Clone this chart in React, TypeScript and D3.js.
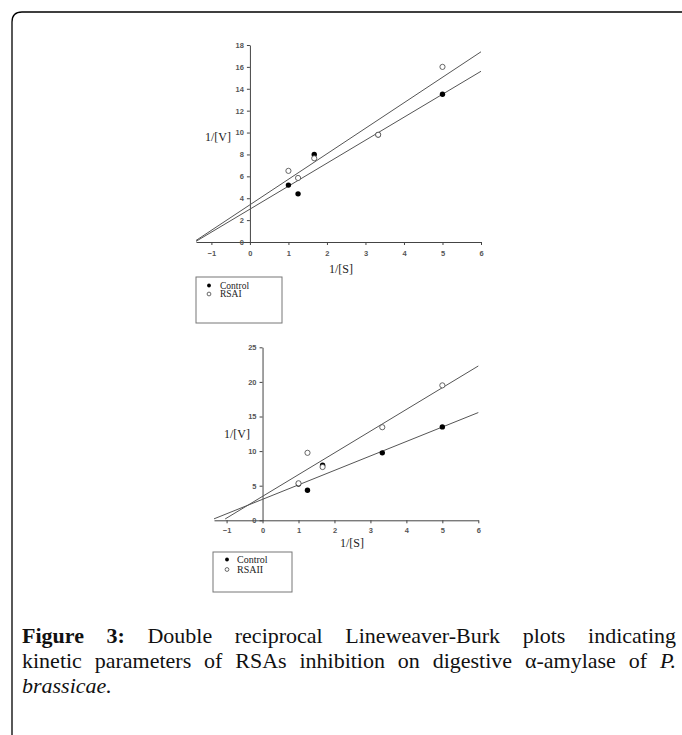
import * as d3 from "d3";
import { useRef, useEffect } from "react";

// 1/[S] values shared by both experiments
const invS: number[] = [1, 1.25, 1.67, 3.33, 5];

// top plot: Control vs RSAI
const control1: number[] = [5.2, 4.4, 8.0, 9.8, 13.5];
const rsai: number[] = [6.5, 5.85, 7.65, 9.8, 16.0];
// bottom plot: Control vs RSAII
const control2: number[] = [5.25, 4.35, 7.95, 9.75, 13.5];
const rsaii: number[] = [5.35, 9.75, 7.7, 13.45, 19.5];

// fitted lines: [slope, intercept, x start]
const fit1Control: number[] = [2.1, 3.0, -1.4];
const fit1Rsai: number[] = [2.33, 3.4, -1.4];
const fit2Control: number[] = [2.09, 3.03, -1.35];
const fit2Rsaii: number[] = [3.14, 3.46, -1.04];

const xTicks: number[] = [-1, 0, 1, 2, 3, 4, 5, 6];
const yTicks1: number[] = [0, 2, 4, 6, 8, 10, 12, 14, 16, 18];
const yTicks2: number[] = [0, 5, 10, 15, 20, 25];

const legend1: string[] = ["Control", "RSAI"];
const legend2: string[] = ["Control", "RSAII"];

export default function App() {
  const svgRef: any = useRef();

  useEffect(() => {
    const svg = d3.select(svgRef.current);
    svg.selectAll("*").remove();

    // frame with rounded corner
    svg
      .append("path")
      .attr("d", "M12,740 V22 Q12,12 22,12 H690")
      .attr("fill", "none")
      .attr("stroke", "#000")
      .attr("stroke-width", 1.3);

    const drawPlot = (
      xDomain: number[],
      xRange: number[],
      yDomain: number[],
      yRange: number[],
      yTicks: number[],
      ctrl: number[],
      other: number[],
      fitC: number[],
      fitO: number[],
      vLabel: number[],
      sLabel: number[],
      tickLabelY: number
    ) => {
      const x = d3.scaleLinear().domain(xDomain).range(xRange);
      const y = d3.scaleLinear().domain(yDomain).range(yRange);
      const g = svg.append("g");

      // axes
      const xAxis = d3.axisBottom(x).tickValues(xTicks).tickSize(3).tickSizeOuter(0).tickFormat(d3.format("d"));
      const gx = g.append("g").attr("transform", `translate(0, ${y(0)})`).call(xAxis);
      const yAxis = d3.axisLeft(y).tickValues(yTicks).tickSize(3).tickSizeOuter(0).tickFormat(d3.format("d"));
      const gy = g.append("g").attr("transform", `translate(${x(0)}, 0)`).call(yAxis);
      [gx, gy].forEach((a) => {
        a.select(".domain").attr("stroke", "#444");
        a.selectAll(".tick line").attr("stroke", "#444");
        a.selectAll("text")
          .attr("font-family", "Liberation Sans, Arial, sans-serif")
          .attr("font-size", 7.5)
          .attr("font-weight", "bold")
          .attr("fill", "#555");
      });
      gx.selectAll(".tick text").attr("y", tickLabelY - y(0)).attr("dy", 0);

      // fit lines
      [fitC, fitO].forEach((f) => {
        const line = d3
          .line<number>()
          .x((d) => x(d))
          .y((d) => y(f[0] * d + f[1]));
        g.append("path")
          .attr("d", line([f[2], xDomain[1]]))
          .attr("fill", "none")
          .attr("stroke", "#555")
          .attr("stroke-width", 1);
      });

      // points
      g.selectAll(".ctrl")
        .data(ctrl)
        .join("circle")
        .attr("cx", (d, i) => x(invS[i]))
        .attr("cy", (d) => y(d))
        .attr("r", 2.7)
        .attr("fill", "#000");
      g.selectAll(".oth")
        .data(other)
        .join("circle")
        .attr("cx", (d, i) => x(invS[i]))
        .attr("cy", (d) => y(d))
        .attr("r", 2.6)
        .attr("fill", "#fff")
        .attr("stroke", "#555")
        .attr("stroke-width", 0.9);

      // axis titles
      g.append("text")
        .attr("x", vLabel[0])
        .attr("y", vLabel[1])
        .attr("text-anchor", "middle")
        .attr("font-family", "Liberation Serif, Times New Roman, serif")
        .attr("font-size", 12)
        .attr("fill", "#222")
        .text("1/[V]");
      g.append("text")
        .attr("x", sLabel[0])
        .attr("y", sLabel[1])
        .attr("text-anchor", "middle")
        .attr("font-family", "Liberation Serif, Times New Roman, serif")
        .attr("font-size", 12)
        .attr("fill", "#222")
        .text("1/[S]");
    };

    drawPlot([-1.4, 6], [196, 481], [0, 18], [242, 45], yTicks1, control1, rsai, fit1Control, fit1Rsai, [218, 141], [341, 273], 256);
    drawPlot([-1.35, 6], [214, 478.3], [0, 25], [520.3, 347.3], yTicks2, control2, rsaii, fit2Control, fit2Rsaii, [237, 438], [352, 547], 533);

    // legends
    const drawLegend = (box: number[], labels: string[], mx: number, tx: number, y0: number, step: number, fs: number) => {
      const g = svg.append("g");
      g.append("rect")
        .attr("x", box[0])
        .attr("y", box[1])
        .attr("width", box[2])
        .attr("height", box[3])
        .attr("fill", "#fff")
        .attr("stroke", "#777")
        .attr("stroke-width", 1);
      labels.forEach((lab, i) => {
        g.append("circle")
          .attr("cx", mx)
          .attr("cy", y0 + i * step)
          .attr("r", 1.9)
          .attr("fill", i === 0 ? "#000" : "#fff")
          .attr("stroke", i === 0 ? "none" : "#444")
          .attr("stroke-width", 0.8);
        g.append("text")
          .attr("x", tx)
          .attr("y", y0 + i * step + 3)
          .attr("font-family", "Liberation Serif, Times New Roman, serif")
          .attr("font-size", fs)
          .attr("fill", "#222")
          .text(lab);
      });
    };
    drawLegend([196, 277, 86, 46], legend1, 209, 220, 285.5, 8.5, 9.5);
    drawLegend([213, 552, 79, 40], legend2, 227, 237, 559.5, 10, 10);

    // caption, justified lines
    const font = "Liberation Serif, Times New Roman, serif";
    const captionLines: { words: { t: string; w?: string; s?: string }[]; y: number; justify: boolean }[] = [
      {
        words: [
          { t: "Figure", w: "bold" },
          { t: "3:", w: "bold" },
          { t: "Double" },
          { t: "reciprocal" },
          { t: "Lineweaver-Burk" },
          { t: "plots" },
          { t: "indicating" },
        ],
        y: 643,
        justify: true,
      },
      {
        words: [
          { t: "kinetic" },
          { t: "parameters" },
          { t: "of" },
          { t: "RSAs" },
          { t: "inhibition" },
          { t: "on" },
          { t: "digestive" },
          { t: "α-amylase" },
          { t: "of" },
          { t: "P.", s: "italic" },
        ],
        y: 668,
        justify: true,
      },
      { words: [{ t: "brassicae.", s: "italic" }], y: 693, justify: false },
    ];
    const left = 22;
    const right = 676;
    captionLines.forEach((ln) => {
      const nodes = ln.words.map((wd) =>
        svg
          .append("text")
          .attr("y", ln.y)
          .attr("font-family", font)
          .attr("font-size", 22)
          .attr("font-weight", wd.w || "normal")
          .attr("font-style", wd.s || "normal")
          .attr("fill", "#111")
          .text(wd.t)
      );
      const widths = nodes.map((n: any) => n.node().getComputedTextLength());
      const total = d3.sum(widths);
      const gap = ln.justify && nodes.length > 1 ? (right - left - total) / (nodes.length - 1) : 5;
      let cx = left;
      nodes.forEach((n, i) => {
        n.attr("x", cx);
        cx += widths[i] + gap;
      });
    });
  }, []);

  return (
    <div>
      <svg ref={svgRef} width={682} height={735} style={{ position: "absolute", left: 0, top: 0, background: "#fff" }}></svg>
    </div>
  );
}
